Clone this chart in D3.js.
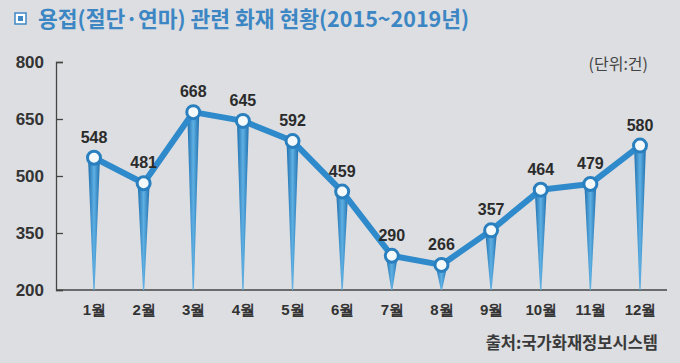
<!DOCTYPE html>
<html>
<head>
<meta charset="utf-8">
<script src="https://cdn.jsdelivr.net/npm/d3@7"></script>
<style>
  body { margin: 0; background: #dcdee1; }
  svg { display: block; font-family: "Noto Sans CJK KR", "Noto Sans", sans-serif; }
</style>
</head>
<body>
<svg id="chart"></svg>
<script>
const months = ['1월', '2월', '3월', '4월', '5월', '6월', '7월', '8월', '9월', '10월', '11월', '12월'];
const fires = [548, 481, 668, 645, 592, 459, 290, 266, 357, 464, 479, 580];
const yTicks = [200, 350, 500, 650, 800];

const width = 680, height = 363;
const margin = { top: 62, right: 13, bottom: 73, left: 56 };

const svg = d3.select('#chart')
    .attr('width', width)
    .attr('height', height);

const data = months.map((m, i) => ({ month: m, value: fires[i] }));

// scales
const xScale = d3.scalePoint()
    .domain(months)
    .range([94, 640]);

const yScale = d3.scaleLinear()
    .domain([200, 800])
    .range([height - margin.bottom, margin.top]);

// title
svg.append('rect')
    .attr('x', 15).attr('y', 13)
    .attr('width', 11).attr('height', 11)
    .attr('fill', '#fff')
    .attr('stroke', '#3f88c5').attr('stroke-width', 1.5);
svg.append('rect')
    .attr('x', 18).attr('y', 16)
    .attr('width', 5).attr('height', 5)
    .attr('fill', '#3f88c5');
svg.append('text')
    .attr('x', 38).attr('y', 27)
    .attr('fill', '#3d86c4')
    .attr('font-size', 21.5)
    .attr('font-weight', 'bold')
    .text('용접(절단·연마) 관련 화재 현황(2015~2019년)');

// gradient for the spikes
const defs = svg.append('defs');
const grad = defs.append('linearGradient')
    .attr('id', 'spike')
    .attr('x1', '0%').attr('x2', '100%')
    .attr('y1', '0%').attr('y2', '0%');
grad.append('stop').attr('offset', '0%').attr('stop-color', '#1f6fae');
grad.append('stop').attr('offset', '50%').attr('stop-color', '#5fb0e3');
grad.append('stop').attr('offset', '100%').attr('stop-color', '#1f6fae');

// axes
const yAxis = d3.axisLeft(yScale).tickValues(yTicks).tickSize(-7).tickPadding(12);
const yAxisG = svg.append('g')
    .attr('transform', `translate(${margin.left},0)`)
    .call(yAxis);
yAxisG.select('.domain').attr('stroke', '#444').attr('stroke-width', 1.3);
yAxisG.selectAll('.tick line').attr('stroke', '#444').attr('stroke-width', 1.3);
yAxisG.selectAll('.tick text')
    .attr('fill', '#333')
    .attr('font-size', 17)
    .attr('font-weight', 'bold')
    .attr('font-family', 'Liberation Sans, Arial, sans-serif');

svg.append('line')
    .attr('x1', margin.left).attr('x2', width - margin.right)
    .attr('y1', yScale(200)).attr('y2', yScale(200))
    .attr('stroke', '#444').attr('stroke-width', 1.3);

const xAxisG = svg.append('g')
    .attr('transform', `translate(0,${yScale(200)})`)
    .call(d3.axisBottom(xScale).tickSize(0).tickPadding(14));
xAxisG.select('.domain').remove();
xAxisG.selectAll('.tick text')
    .attr('fill', '#333')
    .attr('font-size', 15)
    .attr('font-weight', 'bold');

// spikes
svg.selectAll('.spike')
    .data(data)
    .join('path')
    .attr('class', 'spike')
    .attr('fill', 'url(#spike)')
    .attr('d', d => {
        const x = xScale(d.month), y = yScale(d.value), b = yScale(200);
        return `M${x - 6},${y} L${x + 6},${y} L${x + 0.6},${b} L${x - 0.6},${b} Z`;
    });

// line
const line = d3.line()
    .x(d => xScale(d.month))
    .y(d => yScale(d.value));

svg.append('path')
    .datum(data)
    .attr('fill', 'none')
    .attr('stroke', '#2f8acb')
    .attr('stroke-width', 6)
    .attr('stroke-linejoin', 'round')
    .attr('d', line);

// markers
svg.selectAll('.marker')
    .data(data)
    .join('circle')
    .attr('class', 'marker')
    .attr('cx', d => xScale(d.month))
    .attr('cy', d => yScale(d.value))
    .attr('r', 6.5)
    .attr('fill', '#f4f9fb')
    .attr('stroke', '#2a80bf')
    .attr('stroke-width', 3);

// value labels
svg.selectAll('.val')
    .data(data)
    .join('text')
    .attr('class', 'val')
    .attr('x', d => xScale(d.month))
    .attr('y', d => yScale(d.value) - 15)
    .attr('text-anchor', 'middle')
    .attr('fill', '#2b2b2b')
    .attr('font-size', 16)
    .attr('font-weight', 'bold')
    .attr('font-family', 'Liberation Sans, Arial, sans-serif')
    .text(d => d.value);

// unit and source
svg.append('text')
    .attr('x', 648).attr('y', 70)
    .attr('text-anchor', 'end')
    .attr('fill', '#444')
    .attr('font-size', 16)
    .text('(단위:건)');

svg.append('text')
    .attr('x', 658).attr('y', 349)
    .attr('text-anchor', 'end')
    .attr('fill', '#3a3a3a')
    .attr('font-size', 16.5)
    .attr('font-weight', 'bold')
    .text('출처:국가화재정보시스템');
</script>
</body>
</html>
